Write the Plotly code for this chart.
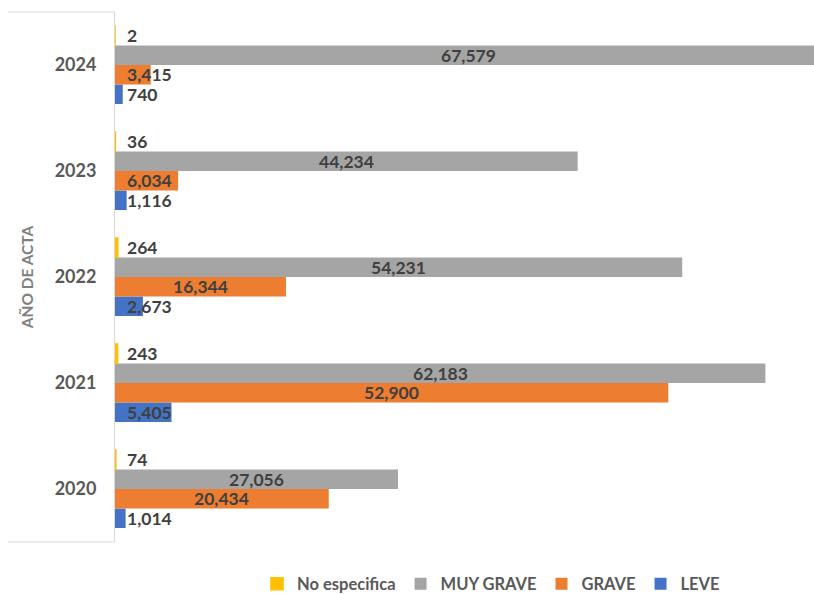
import plotly.graph_objects as go

# ---- data ----
years = ["2020", "2021", "2022", "2023", "2024"]
series_names = ["LEVE", "GRAVE", "MUY GRAVE", "No especifica"]
leve = [1014, 5405, 2673, 1116, 740]
grave = [20434, 52900, 16344, 6034, 3415]
muy_grave = [27056, 62183, 54231, 44234, 67579]
no_especifica = [74, 243, 264, 36, 2]
colors = ["#4472C4", "#ED7D31", "#A5A5A5", "#FFC000"]
axis_title = "AÑO DE ACTA"

# ---- layout constants ----
W, H = 814, 594
ML, MR, MT, MB = 115, 0, 12, 52
BARGAP = 0.264
XMAX = 66830
FONT = "Lato"

values = [leve, grave, muy_grave, no_especifica]

fig = go.Figure()
for name, vals, col in zip(series_names, values, colors):
    # the tiny "No especifica" bars get a hairline outline so they stay visible, as in the source
    lw = 1.6 if name == "No especifica" else 0
    fig.add_trace(go.Bar(
        y=years, x=vals, name=name, orientation="h",
        marker=dict(color=col, line=dict(width=lw, color=col)),
    ))

plot_w = W - ML - MR
plot_h = H - MT - MB
band = plot_h / len(years)
bar_px = band * (1 - BARGAP) / len(series_names)
px_per_unit = plot_w / XMAX

annotations = []
for k, vals in enumerate(values):
    yshift = (k - (len(values) - 1) / 2) * bar_px
    for idx, v in enumerate(vals):
        label = f"{v:,}"
        if v * px_per_unit / 2 < 45:
            x, xanchor, xshift = 0, "left", 10
        else:
            x, xanchor, xshift = v / 2, "center", 0
        annotations.append(dict(
            x=x, y=idx, xref="x", yref="y", text=label, showarrow=False,
            xanchor=xanchor, yanchor="middle", xshift=xshift, yshift=yshift,
            font=dict(family=FONT, size=17.5, color="#404040", weight="bold"),
        ))

shapes = [
    dict(type="line", xref="paper", yref="paper", x0=-107 / plot_w, x1=0, y0=1, y1=1,
         line=dict(color="#D9D9D9", width=1)),
    dict(type="line", xref="paper", yref="paper", x0=-107 / plot_w, x1=0, y0=0, y1=0,
         line=dict(color="#D9D9D9", width=1)),
]

fig.update_layout(
    width=W, height=H,
    margin=dict(l=ML, r=MR, t=MT, b=MB, pad=0, autoexpand=False),
    paper_bgcolor="white", plot_bgcolor="white",
    barmode="group", bargap=BARGAP, bargroupgap=0,
    font=dict(family=FONT, color="#595959"),
    xaxis=dict(range=[0, XMAX], showgrid=False, zeroline=False, showticklabels=False,
               ticks="", showline=False, fixedrange=True),
    yaxis=dict(type="category", categoryorder="array", categoryarray=years,
               range=[-0.5, len(years) - 0.5], autorange=False,
               showline=True, linecolor="#D9D9D9", linewidth=1, ticks="",
               layer="below traces",
               ticklabelstandoff=14,
               tickfont=dict(family=FONT, size=18, color="#595959", weight="bold"),
               title=dict(text=axis_title, standoff=17,
                          font=dict(family=FONT, size=15.5, color="#7F7F7F", weight="bold"))),
    legend=dict(orientation="h", x=(491 - ML) / plot_w, xanchor="center",
                y=-(584 - (H - MB)) / plot_h, yanchor="middle", traceorder="reversed",
                font=dict(family=FONT, size=16.5, color="#595959", weight="bold"),
                itemwidth=30),
    annotations=annotations,
    shapes=shapes,
    showlegend=True,
)

fig.write_html("out.html")
